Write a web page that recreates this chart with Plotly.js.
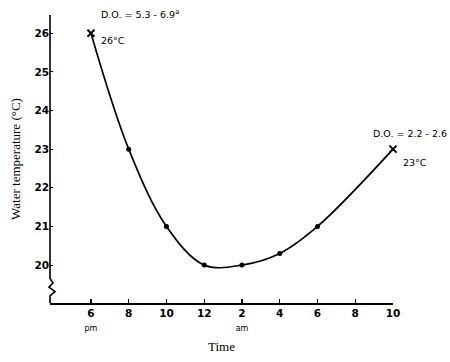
<!DOCTYPE html>
<html>
<head>
<meta charset="utf-8">
<script src="https://cdn.plot.ly/plotly-3.0.1.min.js"></script>
<style>html,body{margin:0;padding:0;background:#fff}#chart{width:450px;height:362px}</style>
</head>
<body>
<div id="chart"></div>
<script>
// Hours after 6 pm
var hours = [0, 2, 4, 6, 8, 10, 12, 16];
var temps = [26, 23, 21, 20, 20, 20.3, 21, 23];
var tickVals = [0, 2, 4, 6, 8, 10, 12, 14, 16];
var tickLabels = ["6", "8", "10", "12", "2", "4", "6", "8", "10"];
var tickSub = ["pm", "", "", "", "am", "", "", "", ""];
var yTicks = [20, 21, 22, 23, 24, 25, 26];
var endIdx = [0, 7];
var endNotes = [["D.O. = 5.3 - 6.9<sup>a</sup>", "26°C"], ["D.O. = 2.2 - 2.6", "23°C"]];

var midX = [], midY = [], endX = [], endY = [];
hours.forEach(function(h, i){
  if (endIdx.indexOf(i) >= 0) { endX.push(h); endY.push(temps[i]); }
  else { midX.push(h); midY.push(temps[i]); }
});

var traces = [
  {x: hours, y: temps, mode: 'lines', cliponaxis: false, line: {shape: 'spline', smoothing: 1, color: '#000', width: 1.7}, hoverinfo: 'none'},
  {x: midX, y: midY, mode: 'markers', cliponaxis: false, marker: {color: '#000', size: 5}, hoverinfo: 'none'},
  {x: endX, y: endY, mode: 'markers', cliponaxis: false, marker: {color: '#000', size: 7, symbol: 'x-thin', line: {width: 2, color: '#000'}}, hoverinfo: 'none'}
];

var ticktext = tickLabels.map(function(t, i){
  return tickSub[i] ? "<b>" + t + "</b><br><span style='font-size:8px'>" + tickSub[i] + "</span>" : "<b>" + t + "</b>";
});
var yticktext = yTicks.map(function(v){ return "<b>" + v + "</b>"; });

var annotations = [];
endIdx.forEach(function(idx, k){
  annotations.push({x: hours[idx], y: temps[idx], xref: 'x', yref: 'y', text: endNotes[k][0], showarrow: false,
    xanchor: 'left', yanchor: 'middle', xshift: k === 0 ? 8 : -22, yshift: k === 0 ? 19 : 16,
    font: {family: 'DejaVu Sans', size: 9.5, color: '#000'}});
  annotations.push({x: hours[idx], y: temps[idx], xref: 'x', yref: 'y', text: endNotes[k][1], showarrow: false,
    xanchor: 'left', yanchor: 'middle', xshift: 8, yshift: k === 0 ? -7 : -13,
    font: {family: 'DejaVu Sans', size: 9.5, color: '#000'}});
});

// y-axis line with a break (zigzag) near the bottom
var z = 1/343;
var breakPath = 'M 0,1 L 0,0.085 L ' + (3*z) + ',0.07 L ' + (-1*z) + ',0.055 L ' + (5*z) + ',0.04 L 0,0.025 L 0,0';

var layout = {
  width: 450, height: 362,
  margin: {l: 50, r: 57, t: 15, b: 59},
  paper_bgcolor: '#fff', plot_bgcolor: '#fff',
  showlegend: false,
  xaxis: {range: [-2.17, 16], tickvals: tickVals, ticktext: ticktext, ticks: 'inside', ticklen: 4, tickwidth: 1.2, tickcolor: '#000',
    showline: true, linecolor: '#000', linewidth: 1.6, showgrid: false, zeroline: false,
    tickfont: {family: 'DejaVu Sans', size: 10.5, color: '#000'},
    title: {text: 'Time', font: {family: 'Liberation Serif', size: 13, color: '#000'}, standoff: 10}},
  yaxis: {range: [19.02, 26.47], tickvals: yTicks, ticktext: yticktext, ticks: 'inside', ticklen: 3, tickwidth: 1.2, tickcolor: '#000',
    showline: false, showgrid: false, zeroline: false,
    tickfont: {family: 'DejaVu Sans', size: 10.5, color: '#000'},
    title: {text: 'Water temperature (°C)', font: {family: 'Liberation Serif', size: 13, color: '#000'}, standoff: 10}},
  shapes: [{type: 'path', xref: 'paper', yref: 'paper', path: breakPath, line: {color: '#000', width: 1.6}}],
  annotations: annotations
};
Plotly.newPlot('chart', traces, layout, {staticPlot: true, displayModeBar: false});
</script>
</body>
</html>
